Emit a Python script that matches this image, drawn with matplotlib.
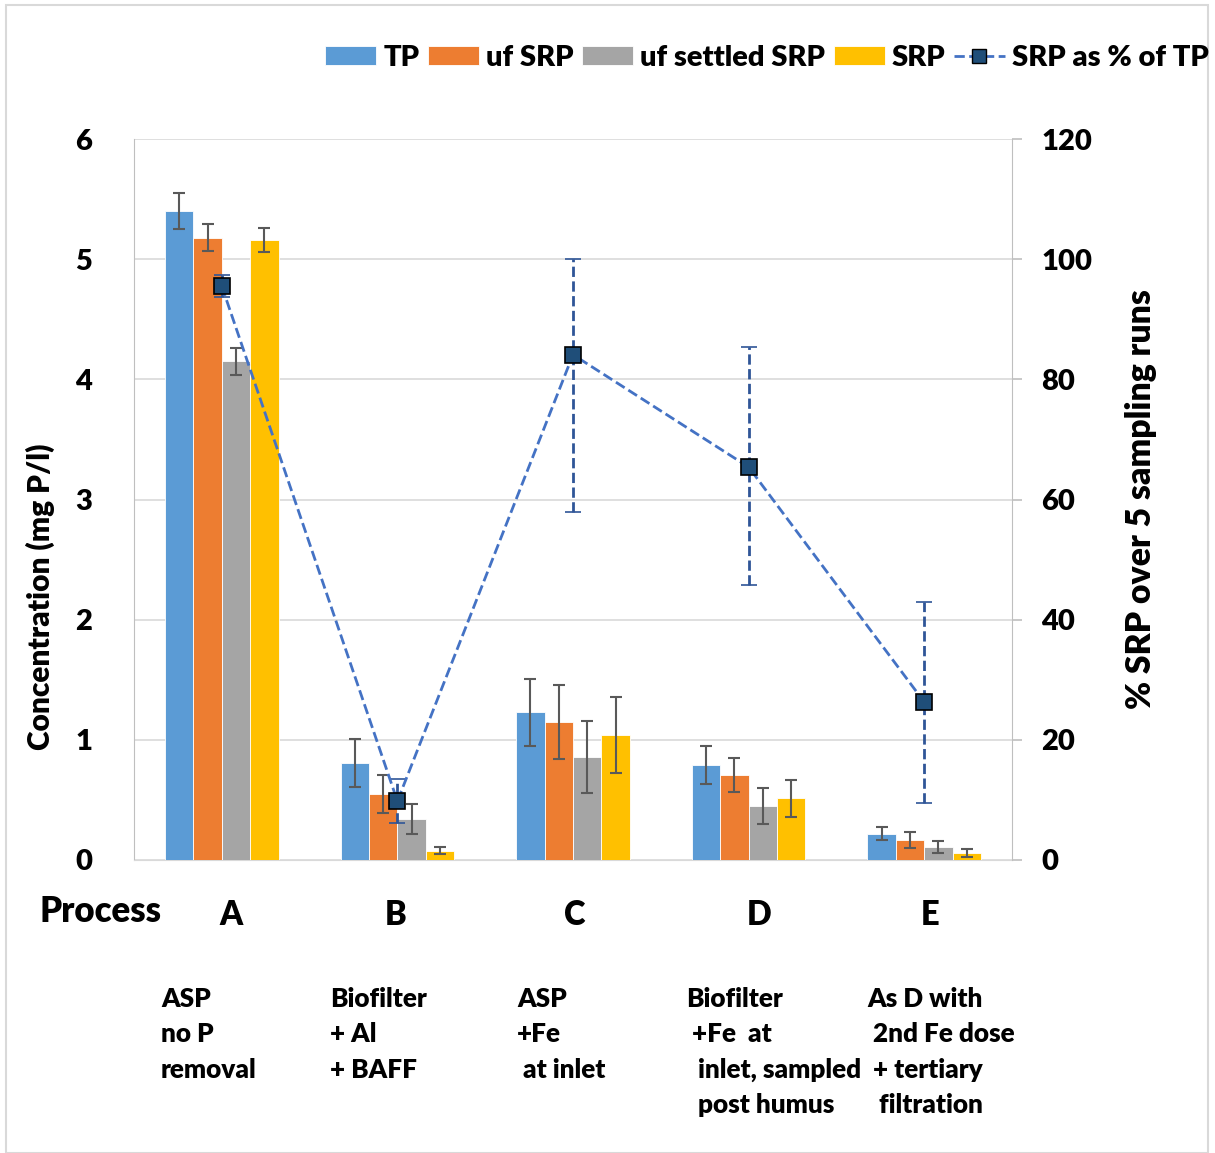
import matplotlib
matplotlib.use("Agg")
import matplotlib.pyplot as plt
import matplotlib.transforms as mtrans
import numpy as np
from matplotlib.patches import Rectangle

plt.rcParams['font.family'] = ['Lato', 'DejaVu Sans']
WT = 800
plt.rcParams['font.weight'] = WT

processes = ['A', 'B', 'C', 'D', 'E']
series = ['TP', 'uf SRP', 'uf settled SRP', 'SRP']
tp = [5.40, 0.81, 1.23, 0.79, 0.22]
tp_err = [0.15, 0.20, 0.28, 0.16, 0.054]
uf_srp = [5.18, 0.55, 1.15, 0.705, 0.166]
uf_srp_err = [0.11, 0.155, 0.31, 0.14, 0.068]
uf_settled = [4.15, 0.34, 0.855, 0.45, 0.106]
uf_settled_err = [0.11, 0.125, 0.30, 0.15, 0.05]
srp = [5.16, 0.077, 1.04, 0.513, 0.056]
srp_err = [0.10, 0.03, 0.32, 0.155, 0.035]
srp_pct = [95.5, 9.8, 84.1, 65.4, 26.3]
srp_pct_err_low = [1.8, 3.7, 26.2, 19.6, 16.8]
srp_pct_err_high = [1.8, 3.7, 15.9, 20.0, 16.6]
descriptions = [
    "ASP\nno P\nremoval",
    "Biofilter\n+ Al\n+ BAFF",
    "ASP\n+Fe\n at inlet",
    "Biofilter\n +Fe  at\n  inlet, sampled\n  post humus",
    "As D with\n 2nd Fe dose\n + tertiary\n  filtration",
]
left_ticks = [0, 1, 2, 3, 4, 5, 6]
right_ticks = [0, 20, 40, 60, 80, 100, 120]

colors = ['#5B9BD5', '#ED7D31', '#A5A5A5', '#FFC000']
W, H = 1215, 1153
fig = plt.figure(figsize=(W / 100, H / 100), dpi=100)
fig.patches.append(Rectangle((6 / W, 0), (1208 - 6) / W, (H - 5) / H, transform=fig.transFigure,
                             fill=False, edgecolor='#d9d9d9', linewidth=1.5))

ax = fig.add_axes([134 / W, 1 - 860 / H, (1012 - 134) / W, (860 - 139) / H])
ax2 = ax.twinx()

x = np.arange(len(processes))
bw = 0.162
vals = [tp, uf_srp, uf_settled, srp]
errs = [tp_err, uf_srp_err, uf_settled_err, srp_err]
handles = []
for i, (v, e, c, name) in enumerate(zip(vals, errs, colors, series)):
    b = ax.bar(x + (i - 1.5) * bw, v, bw, color=c, edgecolor='white', linewidth=0.6,
               yerr=e, error_kw=dict(ecolor='#595959', elinewidth=1.5, capsize=4.5, capthick=1.5),
               label=name, zorder=3)
    handles.append(b)

ax.set_xlim(-0.5, 4.5)
ax.set_ylim(0, 6)
ax.set_yticks(left_ticks)
ax.yaxis.grid(True, color='#d9d9d9', linewidth=1.2, zorder=0)
ax.set_axisbelow(True)
ax.set_xticks(x)
ax.set_xticklabels(processes, fontsize=23.5, fontweight=WT)
ax.tick_params(axis='x', length=0, pad=28)
ax.tick_params(axis='y', length=0, pad=30, labelsize=21)
label_shift_px = [9, -2, 2, 11, 6]
for lab, dx in zip(ax.get_xticklabels(), label_shift_px):
    lab.set_transform(lab.get_transform() + mtrans.ScaledTranslation(dx / 100, 0, fig.dpi_scale_trans))
ax.spines['top'].set_visible(False)
ax.spines['left'].set_color('#bfbfbf')
ax.spines['bottom'].set_color('#d9d9d9')
ax.spines['right'].set_visible(False)
ax.set_ylabel('Concentration (mg P/l)', fontsize=21.5, fontweight=WT)
ax.yaxis.set_label_coords(-(134 - 55) / (1012 - 134), (860 - 597) / 721)

ax2.set_ylim(0, 120)
ax2.set_yticks(right_ticks)
ax2.tick_params(axis='y', length=7, width=1.2, color='#bfbfbf', pad=14, labelsize=21)
ax2.spines['right'].set_color('#bfbfbf')
for s in ['top', 'left', 'bottom']:
    ax2.spines[s].set_visible(False)
eb = ax2.errorbar(x, srp_pct, yerr=[srp_pct_err_low, srp_pct_err_high], color='#4472C4',
                  linestyle='--', linewidth=2, marker='s', markersize=11,
                  markerfacecolor='#1F4E79', markeredgecolor='black', markeredgewidth=1.2,
                  ecolor='#2F5597', elinewidth=2, capsize=6, capthick=2,
                  label='SRP as % of TP', zorder=5)
eb[-1][0].set_linestyle('--')
ax2.set_ylabel('% SRP over 5 sampling runs', fontsize=24.3, fontweight=WT, rotation=90)
ax2.yaxis.set_label_coords(1 + (1125 - 1012) / (1012 - 134), (860 - 499) / 721)

line_handle = plt.Line2D([], [], color='#4472C4', linestyle='--', linewidth=2, marker='s',
                         markersize=10, markerfacecolor='#1F4E79', markeredgecolor='black')
fig.legend(handles + [line_handle], series + ['SRP as % of TP'], loc='center right',
           bbox_to_anchor=(1209 / W, 1 - 58 / H), ncol=5, frameon=False,
           prop=dict(size=21, weight=WT), handlelength=1.75, handleheight=0.65,
           handletextpad=0.25, columnspacing=0.28, borderpad=0, borderaxespad=0)

fig.text(100 / W, 1 - 912 / H, 'Process', fontsize=25, fontweight=WT, ha='center', va='center')

desc_x = [161, 330, 517, 686, 867]
for dx, t in zip(desc_x, descriptions):
    fig.text(dx / W, 1 - 987 / H, t, fontsize=18.8, fontweight=WT, ha='left', va='top',
             linespacing=1.57)

fig.savefig('out.png', dpi=100)
